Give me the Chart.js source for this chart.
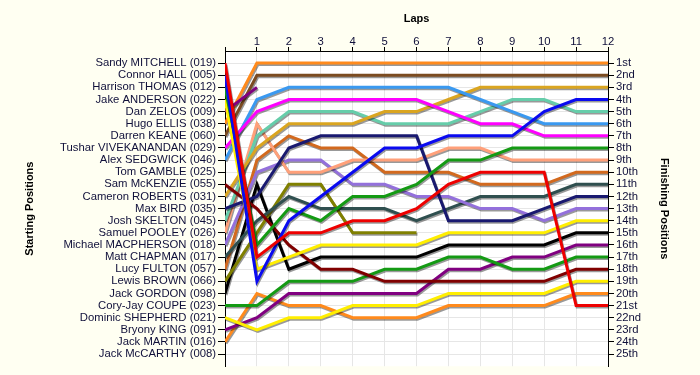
<!DOCTYPE html>
<html>
<head>
<meta charset="utf-8">
<script src="https://cdn.jsdelivr.net/npm/chart.js@4.4.1/dist/chart.umd.min.js"></script>
<style>
  html, body { margin: 0; padding: 0; background: #fffff2; }
  #wrap { width: 700px; height: 375px; }
</style>
</head>
<body>
<div id="wrap"><canvas id="lapChart" width="700" height="375"></canvas></div>
<script>
// laps 0..12 (lap 0 = grid)
const laps = [0, 1, 2, 3, 4, 5, 6, 7, 8, 9, 10, 11, 12]

const startNames = [
  'Sandy MITCHELL (019)', 'Connor HALL (005)', 'Harrison THOMAS (012)', 'Jake ANDERSON (022)',
  'Dan ZELOS (009)', 'Hugo ELLIS (038)', 'Darren KEANE (060)', 'Tushar VIVEKANANDAN (029)',
  'Alex SEDGWICK (046)', 'Tom GAMBLE (025)', 'Sam McKENZIE (055)', 'Cameron ROBERTS (031)',
  'Max BIRD (035)', 'Josh SKELTON (045)', 'Samuel POOLEY (026)', 'Michael MACPHERSON (018)',
  'Matt CHAPMAN (017)', 'Lucy FULTON (057)', 'Lewis BROWN (066)', 'Jack GORDON (098)',
  'Cory-Jay COUPE (023)', 'Dominic SHEPHERD (021)', 'Bryony KING (091)', 'Jack MARTIN (016)',
  'Jack McCARTHY (008)'
]

const finishLabels = [
  '1st', '2nd', '3rd', '4th', '5th', '6th', '7th', '8th', '9th', '10th', '11th', '12th', '13th',
  '14th', '15th', '16th', '17th', '18th', '19th', '20th', '21st', '22nd', '23rd', '24th', '25th'
]

// position per lap, one array per driver (null = no longer running)
const mitchell   = [1, 17, 15, 15, 14, 14, 13, 11, 10, 10, 10, 21, 21]
const hall       = [2, 19, 14, 12, 10, 8, 8, 7, 7, 7, 5, 4, 4]
const thomas     = [3, 16, 13, 14, 12, 12, 11, 9, 9, 8, 8, 8, 8]
const anderson   = [4, 18, 17, 16, 16, 16, 16, 15, 15, 15, 15, 14, 14]
const zelos      = [5, 3, null, null, null, null, null, null, null, null, null, null, null]
const ellis      = [6, 1, 1, 1, 1, 1, 1, 1, 1, 1, 1, 1, 1]
const keane      = [7, 2, 2, 2, 2, 2, 2, 2, 2, 2, 2, 2, 2]
const vivek      = [8, 5, 4, 4, 4, 4, 4, 5, 6, 6, 7, 7, 7]
const sedgwick   = [9, 4, 3, 3, 3, 3, 3, 3, 4, 5, 6, 6, 6]
const mckenzie   = [11, 13, 16, 18, 18, 19, 19, 19, 19, 19, 19, 18, 18]
const roberts    = [12, 8, 6, 6, 6, 5, 5, 4, 3, 3, 3, 3, 3]
const bird       = [13, 12, 8, 7, 7, 7, 7, 14, 14, 14, 13, 12, 12]
const skelton    = [14, 7, 5, 5, 5, 6, 6, 6, 5, 4, 4, 5, 5]
const pooley     = [15, 6, 10, 10, 9, 9, 9, 8, 8, 9, 9, 9, 9]
const macpherson = [16, 10, 9, 9, 11, 11, 12, 12, 13, 13, 14, 13, 13]
const chapman    = [17, 14, 12, 13, 13, 13, 14, 13, 12, 12, 12, 11, 11]
const fulton     = [18, 9, 7, 8, 8, 10, 10, 10, 11, 11, 11, 10, 10]
const brown      = [19, 15, 11, 11, 15, 15, 15, null, null, null, null, null, null]
const gordon     = [20, 11, 18, 17, 17, 17, 17, 16, 16, 16, 16, 15, 15]
const coupe      = [21, 21, 19, 19, 19, 18, 18, 17, 17, 18, 18, 17, 17]
const shepherd   = [22, 23, 22, 22, 21, 21, 21, 20, 20, 20, 20, 19, 19]
const king       = [23, 22, 20, 20, 20, 20, 20, 18, 18, 17, 17, 16, 16]
const martin     = [24, 20, 21, 21, 22, 22, 22, 21, 21, 21, 21, 20, 20]

const drivers = [
  [startNames[0], mitchell, '#ee0000'],
  [startNames[1], hall, '#0a0af0'],
  [startNames[2], thomas, '#149a14'],
  [startNames[3], anderson, '#ffee00'],
  [startNames[4], zelos, '#800080'],
  [startNames[5], ellis, '#ff8a1c'],
  [startNames[6], keane, '#7b4b20'],
  [startNames[7], vivek, '#ff00ff'],
  [startNames[8], sedgwick, '#3a99f0'],
  [startNames[10], mckenzie, '#800000'],
  [startNames[11], roberts, '#daa520'],
  [startNames[12], bird, '#191970'],
  [startNames[13], skelton, '#66cdaa'],
  [startNames[14], pooley, '#ffa07a'],
  [startNames[15], macpherson, '#9370db'],
  [startNames[16], chapman, '#2f4f4f'],
  [startNames[17], fulton, '#d2691e'],
  [startNames[18], brown, '#808000'],
  [startNames[19], gordon, '#000000'],
  [startNames[20], coupe, '#149a14'],
  [startNames[21], shepherd, '#ffee00'],
  [startNames[22], king, '#800080'],
  [startNames[23], martin, '#ff8a1c']
]

const positions = startNames.map((n, i) => i + 1)

// grey drop shadow under each line
const lineShadow = {
  id: 'lineShadow',
  beforeDatasetDraw(chart) {
    const c = chart.ctx
    c.save()
    c.shadowColor = 'rgba(0,0,0,0.4)'
    c.shadowOffsetX = 1
    c.shadowOffsetY = 1.5
    c.shadowBlur = 0
  },
  afterDatasetDraw(chart) {
    chart.ctx.restore()
  }
}

const plotBg = {
  id: 'plotBg',
  beforeDraw(chart) {
    const { ctx, chartArea: a } = chart
    ctx.save()
    ctx.fillStyle = '#ffffff'
    ctx.fillRect(a.left, a.top, a.right - a.left, a.bottom - a.top)
    ctx.restore()
  }
}

const txt = '#10103a'
const font = { family: 'Liberation Sans, Arial, sans-serif', size: 11.3 }
const bold = { family: 'Liberation Sans, Arial, sans-serif', size: 11, weight: 'bold' }

new Chart(document.getElementById('lapChart'), {
  type: 'line',
  data: {
    labels: laps,
    datasets: drivers.map(d => ({
      label: d[0],
      data: laps.map((l, i) => ({ x: l, y: d[1][i] })),
      borderColor: d[2],
      borderWidth: 3,
      pointRadius: 0,
      tension: 0,
      spanGaps: false,
      fill: false
    }))
  },
  options: {
    responsive: false,
    animation: false,
    layout: { padding: { left: 19, right: 25, top: 8, bottom: 8 } },
    plugins: { legend: { display: false }, tooltip: { enabled: false } },
    scales: {
      x: {
        type: 'linear',
        position: 'top',
        min: 0,
        max: 12,
        afterBuildTicks: s => { s.ticks = laps.map(v => ({ value: v })) },
        afterFit: s => { s.height = 43 },
        ticks: { color: txt, font: font, padding: -2, callback: v => (v === 0 ? '' : v) },
        grid: { color: '#e6e6e6', tickColor: '#000', tickLength: 4 },
        border: { color: '#000' },
        title: { display: true, text: 'Laps', color: '#000', font: bold, padding: { top: 4, bottom: 4 } }
      },
      y: {
        type: 'linear',
        position: 'left',
        reverse: true,
        min: 0,
        max: 26,
        afterBuildTicks: s => { s.ticks = positions.map(v => ({ value: v })) },
        afterFit: s => { s.width = 206 },
        ticks: { color: txt, font: font, padding: 2, autoSkip: false, callback: v => startNames[v - 1] },
        grid: { color: '#e6e6e6', tickColor: '#000', tickLength: 7 },
        border: { color: '#000' },
        title: { display: true, text: 'Starting Positions', color: '#000', font: bold }
      },
      y2: {
        type: 'linear',
        position: 'right',
        reverse: true,
        min: 0,
        max: 26,
        afterBuildTicks: s => { s.ticks = positions.map(v => ({ value: v })) },
        afterFit: s => { s.width = 67 },
        ticks: { color: txt, font: font, padding: 2, autoSkip: false, callback: v => finishLabels[v - 1] },
        grid: { drawOnChartArea: false, tickColor: '#000', tickLength: 6 },
        border: { color: '#000' },
        title: { display: true, text: 'Finishing Positions', color: '#000', font: bold }
      }
    }
  },
  plugins: [plotBg, lineShadow]
})
</script>
</body>
</html>
